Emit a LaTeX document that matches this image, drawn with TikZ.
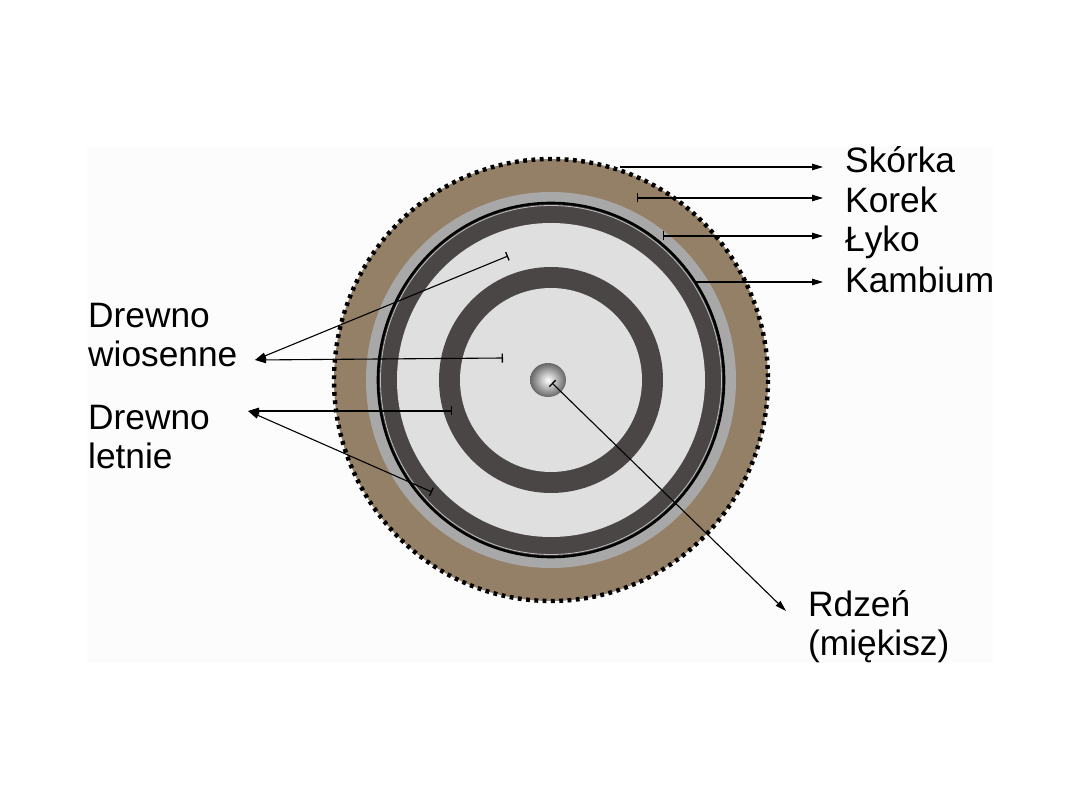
\documentclass[tikz,border=0pt]{standalone}
\usepackage{fontspec}
\setmainfont{Liberation Sans}
\usetikzlibrary{arrows.meta}
\definecolor{bgc}{RGB}{252,252,252}
\definecolor{bark}{RGB}{148,128,102}
\definecolor{bast}{RGB}{168,168,168}
\definecolor{latew}{RGB}{74,70,69}
\definecolor{earlyw}{RGB}{223,223,223}
\definecolor{thinl}{RGB}{190,190,190}
\tikzset{
  lbl/.style={inner sep=0pt, font=\fontsize{35.3}{39}\selectfont, align=left},
  leader/.style={line width=1.1pt, draw=black},
  toarrow/.style={leader, -{Triangle[length=11pt,width=6.5pt]}},
  bararrow/.style={leader, {Bar[width=9pt,line width=1.3pt]}-{Triangle[length=11pt,width=6.5pt]}}
}
\begin{document}
\begin{tikzpicture}[x=1pt,y=-1pt]
\useasboundingbox (0,0) rectangle (1080,810);
\fill[white] (0,0) rectangle (1080,810);
\fill[bgc] (87,147) rectangle (993,663);
% trunk cross-section
\fill[bark] (551,380) ellipse [x radius=217, y radius=221];
\draw[black, line width=4.4pt, dash pattern=on 3.8pt off 4.5pt] (551,380) ellipse [x radius=217, y radius=221];
\fill[bast] (551,380) ellipse [x radius=185, y radius=188];
\fill[latew] (551,380) ellipse [x radius=172, y radius=176];
\draw[black, line width=2.6pt] (551,380) ellipse [x radius=173, y radius=177];
\draw[thinl, line width=0.8pt] (551,380) ellipse [x radius=170.5, y radius=174.5];
\fill[earlyw] (551,380) ellipse [x radius=154, y radius=157];
\fill[latew] (551,380) ellipse [x radius=112, y radius=113];
\fill[earlyw] (551,380) ellipse [x radius=91, y radius=92];
\shade[inner color=white, outer color=gray!80!black] (548,380) ellipse [x radius=18, y radius=17];
% labels
\node[lbl, anchor=base west] (skorka) at (845,173) {Skórka};
\node[lbl, anchor=base west] (korek) at (845,213) {Korek};
\node[lbl, anchor=base west] (lyko) at (845,252) {Łyko};
\node[lbl, anchor=base west] (kambium) at (845,293) {Kambium};
\node[lbl, anchor=north west] (wios) at (88,303) {Drewno\\wiosenne};
\node[lbl, anchor=north west] (letn) at (88,405) {Drewno\\letnie};
\node[lbl, anchor=north west] (rdzen) at (808,590) {Rdzeń\\(miękisz)};
% leader coordinates
\coordinate (sA) at (620,167); \coordinate (sB) at (823,167);
\coordinate (kA) at (637,198); \coordinate (kB) at (823,198);
\coordinate (lA) at (663,236); \coordinate (lB) at (823,236);
\coordinate (mA) at (696,282); \coordinate (mB) at (823,282);
\coordinate (wT) at (255,360); \coordinate (w1) at (508,256); \coordinate (w2) at (503,358);
\coordinate (dT) at (248,411); \coordinate (d1) at (452,411); \coordinate (d2) at (432,492);
\coordinate (pA) at (552,383); \coordinate (pB) at (786,611);
% leaders
\draw[toarrow] (sA) -- (sB);
\draw[bararrow] (kA) -- (kB);
\draw[bararrow] (lA) -- (lB);
\draw[toarrow] (mA) -- (mB);
\draw[bararrow] (w1) -- (wT);
\draw[bararrow] (w2) -- (wT);
\draw[bararrow] (d1) -- (dT);
\draw[bararrow] (d2) -- (dT);
\draw[bararrow] (pA) -- (pB);
\end{tikzpicture}
\end{document}
